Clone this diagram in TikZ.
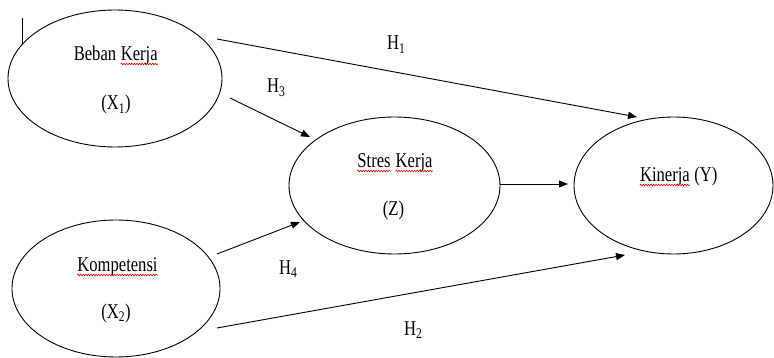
\documentclass[tikz,border=0pt]{standalone}
\usepackage{fontspec}
\setmainfont[FakeStretch=0.79]{Liberation Serif}
\usetikzlibrary{shapes.geometric,arrows.meta,decorations.pathmorphing}
\newcommand\redwave[1]{\tikz[baseline=(w.base)]{\node[inner sep=0pt,draw=none] (w) {#1};\draw[red!85!black,line width=0.6pt,decorate,decoration={snake,amplitude=0.8pt,segment length=2.6pt}] ([yshift=-3pt]w.base west) -- ([yshift=-3pt]w.base east);}}
\begin{document}
\begin{tikzpicture}[x=1pt,y=-1pt,
  var/.style={draw,ellipse,line width=0.9pt,inner sep=0pt},
  lbl/.style={font=\fontsize{21}{25}\selectfont,inner sep=0pt,anchor=base},
  hl/.style={font=\fontsize{21}{25}\selectfont,inner sep=0pt,anchor=base west},
  arr/.style={line width=0.9pt,-{Triangle[length=9pt,width=7pt]}}]
\useasboundingbox (0,0) rectangle (774,358);
\node[var,minimum width=214pt,minimum height=137pt] (x1) at (115,78.5) {};
\node[var,minimum width=208pt,minimum height=137pt] (x2) at (116,288.5) {};
\node[var,minimum width=211pt,minimum height=137pt] (z) at (394.5,185.5) {};
\node[var,minimum width=199pt,minimum height=137pt] (y) at (673.5,185.5) {};
\node[lbl] (t1) at (116,61) {Beban \redwave{Kerja}};
\node[lbl] (t1b) at (116,110) {(X\textsubscript{1})};
\node[lbl] (t2) at (117.5,272) {\redwave{Kompetensi}};
\node[lbl] (t2b) at (116,318) {(X\textsubscript{2})};
\node[lbl] (t3) at (395,168) {\redwave{Stres} \redwave{Kerja}};
\node[lbl] (t3b) at (393.5,216) {(Z)};
\node[lbl] (t4) at (678.5,182) {\redwave{Kinerja} (Y)};
\coordinate (h1s) at (217,39);
\coordinate (h1e) at (637,117);
\coordinate (h3s) at (230,98);
\coordinate (h3e) at (310,137);
\coordinate (h4s) at (217,254);
\coordinate (h4e) at (300,222);
\coordinate (h2s) at (217,328);
\coordinate (h2e) at (625,255);
\coordinate (zs) at (500,184);
\coordinate (ze) at (568,184);
\draw[arr] (h1s) -- (h1e);
\draw[arr] (h3s) -- (h3e);
\draw[arr] (h4s) -- (h4e);
\draw[arr] (h2s) -- (h2e);
\draw[arr] (zs) -- (ze);
\node[hl] (l1) at (387,50) {H\textsubscript{1}};
\node[hl] (l3) at (267,93) {H\textsubscript{3}};
\node[hl] (l4) at (279,274) {H\textsubscript{4}};
\node[hl] (l2) at (404,335) {H\textsubscript{2}};
\coordinate (v1) at (22.5,18);
\coordinate (v2) at (22.5,45);
\draw[line width=0.9pt] (v1) -- (v2);
\end{tikzpicture}
\end{document}
